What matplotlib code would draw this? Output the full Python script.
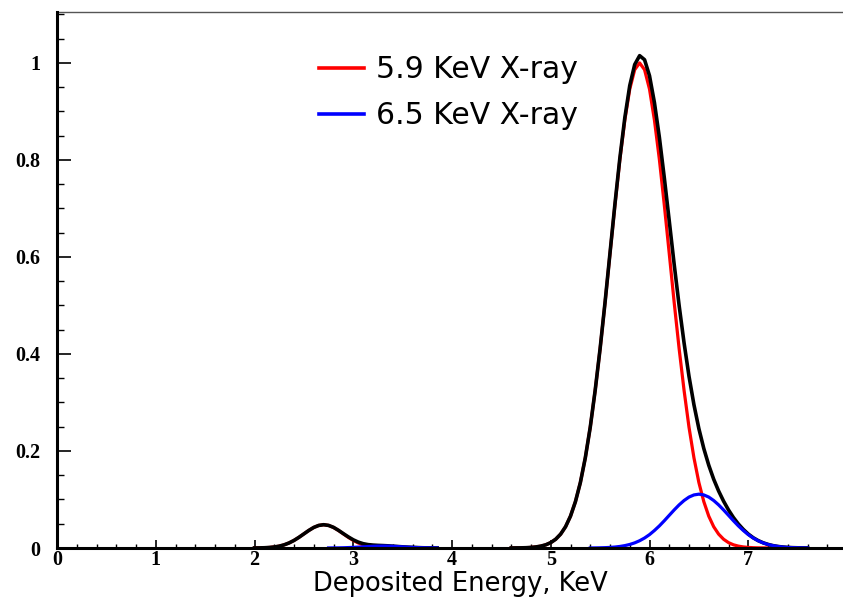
import numpy as np
import matplotlib
matplotlib.use("Agg")
import matplotlib.pyplot as plt
from matplotlib.ticker import MultipleLocator

# Sampling energies (keV): escape-peak region and main-peak region
escape_energy = np.round(np.arange(2.0, 3.9001, 0.05), 2)
main_energy = np.round(np.arange(4.6, 7.6001, 0.05), 2)

# 5.9 keV line
red_escape = [0.0001, 0.0002, 0.0005, 0.0011, 0.0021, 0.0038, 0.0065, 0.0104, 0.0156, 0.0220,
              0.0291, 0.0362, 0.0424, 0.0465, 0.0480, 0.0465, 0.0424, 0.0362, 0.0291, 0.0220,
              0.0156, 0.0104, 0.0065, 0.0040, 0.0025, 0.0015, 0.0010, 0.0006, 0.0003, 0.0001,
              0, 0, 0, 0, 0, 0, 0, 0, 0]
red_main = [0.0001, 0.0002, 0.0003, 0.0006, 0.0012, 0.0022, 0.0039, 0.0066, 0.0111, 0.0181,
            0.0286, 0.0439, 0.0657, 0.0956, 0.135, 0.186, 0.249, 0.325, 0.411, 0.506,
            0.607, 0.707, 0.801, 0.882, 0.946, 0.986, 1.0, 0.986, 0.946, 0.882,
            0.801, 0.707, 0.607, 0.506, 0.411, 0.325, 0.249, 0.186, 0.135, 0.0956,
            0.0657, 0.0439, 0.0286, 0.0181, 0.0111, 0.0066, 0.0039, 0.0022, 0.0012, 0.0006,
            0.0003, 0.0002, 0.0001, 0, 0, 0, 0, 0, 0, 0, 0]

# 6.5 keV line
blue_escape = [0, 0, 0, 0, 0, 0, 0, 0, 0, 0,
               0, 0, 0, 0, 0, 0.0001, 0.0002, 0.0003, 0.0005, 0.0009,
               0.0013, 0.0018, 0.0024, 0.0030, 0.0035, 0.0039, 0.0040, 0.0039, 0.0035, 0.0030,
               0.0024, 0.0018, 0.0013, 0.0009, 0.0005, 0.0003, 0.0002, 0.0001, 0]
blue_main = [0, 0, 0, 0, 0, 0, 0, 0, 0, 0,
             0, 0, 0, 0, 0, 0, 0.0001, 0.0002, 0.0004, 0.0007,
             0.0012, 0.0020, 0.0032, 0.0049, 0.0073, 0.0106, 0.0150, 0.0206, 0.0276, 0.0361,
             0.0456, 0.0562, 0.0674, 0.0785, 0.0889, 0.0979, 0.1050, 0.1094, 0.1110, 0.1094,
             0.1050, 0.0979, 0.0889, 0.0785, 0.0674, 0.0562, 0.0456, 0.0361, 0.0276, 0.0206,
             0.0150, 0.0106, 0.0073, 0.0049, 0.0032, 0.0020, 0.0012, 0.0007, 0.0004, 0.0002,
             0.0001]

labels = ["5.9 KeV X-ray", "6.5 KeV X-ray"]
x_ticks = [0, 1, 2, 3, 4, 5, 6, 7, 8]
y_ticks = [0, 0.2, 0.4, 0.6, 0.8, 1.0]
y_tick_labels = ["0", "0.2", "0.4", "0.6", "0.8", "1"]


def _blank_zeros(values):
    # points that sit exactly on zero are hidden by the axis in the original, so skip them
    arr = np.asarray(values, dtype=float)
    return np.where(arr == 0, np.nan, arr)


energy = np.concatenate([escape_energy, main_energy])
red = np.concatenate([red_escape, red_main])
blue = np.concatenate([blue_escape, blue_main])
total = red + blue

fig = plt.figure(figsize=(8.43, 5.99), dpi=100)
W, H = 843.0, 599.0
ax = fig.add_axes([57 / W, 1 - 548 / H, (847 - 57) / W, (548 - 12) / H])

ax.plot(energy, _blank_zeros(red), color="#ff0000", lw=2.3, label=labels[0], zorder=2.0)
ax.plot(energy, _blank_zeros(total), color="black", lw=2.6, zorder=2.1)
ax.plot(energy, _blank_zeros(blue), color="#0000ff", lw=2.3, label=labels[1], zorder=2.2)

ax.set_xlim(0, 8)
ax.set_ylim(0, 1.105)

# ROOT-like frame: heavy left/bottom axes, thin top line
for side in ("left", "bottom"):
    ax.spines[side].set_linewidth(2.2)
    ax.spines[side].set_color("black")
    ax.spines[side].set_zorder(3)
ax.spines["top"].set_linewidth(1.0)
ax.spines["top"].set_color("#555555")
ax.spines["right"].set_visible(False)

ax.set_xticks(x_ticks)
ax.set_yticks(y_ticks)
ax.set_yticklabels(y_tick_labels)
ax.xaxis.set_minor_locator(MultipleLocator(0.2))
ax.yaxis.set_minor_locator(MultipleLocator(0.05))
ax.tick_params(axis="x", which="major", direction="in", length=5.5, width=1.2, pad=1.5)
ax.tick_params(axis="x", which="minor", direction="in", length=3, width=1.0)
ax.tick_params(axis="y", which="major", direction="in", length=10, width=1.2, pad=12)
ax.tick_params(axis="y", which="minor", direction="in", length=5, width=1.0)
ax.tick_params(top=False, right=False, which="both")
for lab in ax.get_xticklabels() + ax.get_yticklabels():
    lab.set_fontfamily("Liberation Serif")
    lab.set_fontweight("bold")
    lab.set_fontsize(14.5)

ax.set_xlabel("Deposited Energy, KeV", fontsize=18.5, family="DejaVu Sans")
ax.xaxis.set_label_coords(0.511, -0.0795)
ax.xaxis.label.set_verticalalignment("baseline")

leg = ax.legend(loc="upper left", bbox_to_anchor=(319 / W, 1 - 55 / H),
                bbox_transform=fig.transFigure, frameon=False,
                prop={"family": "DejaVu Sans", "size": 21.5},
                handlelength=1.5, handletextpad=0.4, labelspacing=0.58,
                borderpad=0, borderaxespad=0)
for line in leg.get_lines():
    line.set_linewidth(2.6)

fig.savefig("out.png", dpi=100)
